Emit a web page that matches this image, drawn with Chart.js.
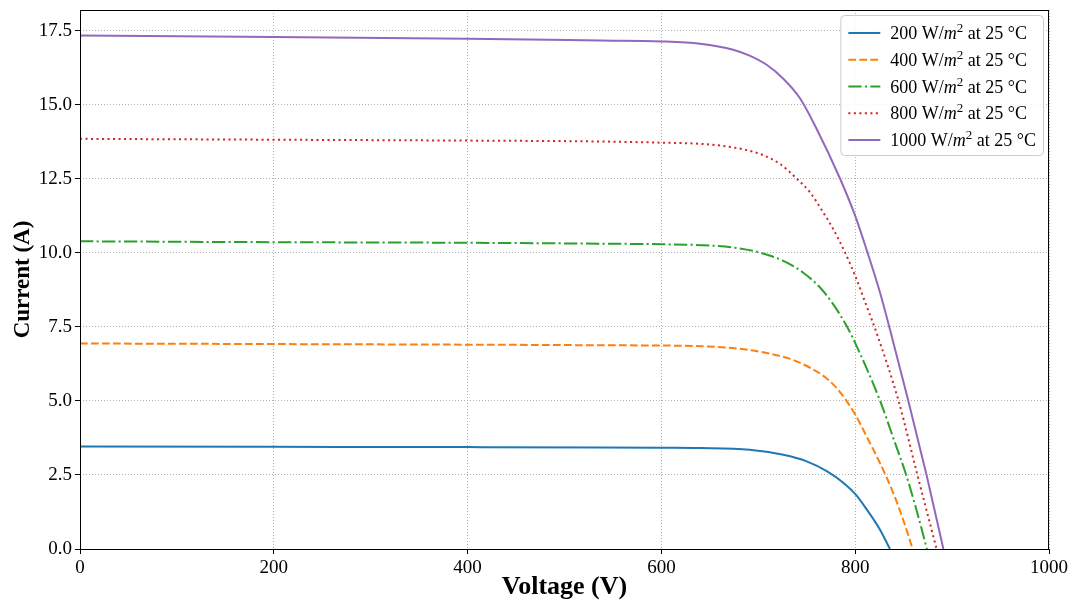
<!DOCTYPE html>
<html>
<head>
<meta charset="utf-8">
<script src="https://cdn.jsdelivr.net/npm/chart.js@4.4.1/dist/chart.umd.min.js"></script>
<style>
    html, body { margin: 0; padding: 0; background: #ffffff; }
    #wrap { width: 1071px; height: 604px; }
</style>
</head>
<body>
<div id="wrap"><canvas id="mycanvas"></canvas></div>
<script>
// irradiance levels (W/m^2) and cell temperature
var irradiance = [200, 400, 600, 800, 1000];
var cellTemp = 25;

// I-V curves: voltage (V) and current (A)
var volt200 = [0, 200, 400, 536.6, 600, 640, 691, 725.8, 749.9, 770.6, 787.7, 800, 811.8, 825.6, 835.9];
var amp200  = [3.46, 3.45, 3.44, 3.43, 3.42, 3.41, 3.35, 3.18, 2.96, 2.63, 2.24, 1.86, 1.34, 0.65, 0];

var volt400 = [0, 200, 400, 536.6, 600, 640, 681, 708.6, 732.7, 753.4, 770.6, 784.3, 800, 811.8, 825.6, 839.3, 849.6, 859.3];
var amp400  = [6.94, 6.92, 6.90, 6.88, 6.87, 6.85, 6.76, 6.62, 6.42, 6.12, 5.76, 5.30, 4.54, 3.80, 2.90, 1.89, 0.98, 0];

var volt600 = [0, 200, 400, 536.6, 600, 640, 674, 701.7, 725.8, 746.4, 763.7, 777.4, 791.2, 801.5, 825.6, 839.3, 853.1, 863.4, 874];
var amp600  = [10.39, 10.36, 10.34, 10.31, 10.29, 10.26, 10.18, 10.01, 9.73, 9.33, 8.83, 8.26, 7.53, 6.85, 5.01, 3.75, 2.45, 1.30, 0];

var volt800 = [0, 200, 400, 536.6, 600, 640, 674, 701.7, 722.4, 739.6, 753.4, 767.1, 777.4, 789.5, 800, 811.8, 821.5, 845, 864, 884];
var amp800  = [13.85, 13.82, 13.79, 13.76, 13.72, 13.68, 13.56, 13.34, 13.0, 12.51, 12.04, 11.36, 10.80, 10.01, 9.22, 8.20, 7.35, 4.97, 2.52, 0];

var volt1000 = [0, 200, 400, 536.6, 600, 640, 674, 691, 708.6, 725.8, 743, 760, 784.3, 800, 811.8, 825.6, 835.9, 854.8, 873.7, 891];
var amp1000  = [17.34, 17.29, 17.23, 17.17, 17.14, 17.06, 16.86, 16.66, 16.35, 15.88, 15.22, 14.2, 12.51, 11.25, 10.1, 8.66, 7.41, 5.01, 2.49, 0];

var xTicks = [0, 200, 400, 600, 800, 1000];
var yTicks = [0, 2.5, 5, 7.5, 10, 12.5, 15, 17.5];

var FONT = '"Liberation Serif", "Times New Roman", serif';

function toPoints(vs, is) {
    var pts = [];
    for (var i in vs) {
        pts.push({ x: vs[i], y: is[i] });
    }
    return pts;
}

function curve(vs, is, color, dash, g) {
    return {
        label: g + ' W/m² at ' + cellTemp + ' °C',
        data: toPoints(vs, is),
        borderColor: color,
        backgroundColor: color,
        borderWidth: 2,
        borderDash: dash,
        pointRadius: 0,
        fill: false,
        cubicInterpolationMode: 'monotone'
    };
}

var chartdata = {
    datasets: [
        curve(volt200, amp200, '#1f77b4', [], irradiance[0]),
        curve(volt400, amp400, '#ff7f0e', [7.7, 3.3], irradiance[1]),
        curve(volt600, amp600, '#2ca02c', [13.3, 3.3, 2.1, 3.3], irradiance[2]),
        curve(volt800, amp800, '#d62728', [2.1, 3.4], irradiance[3]),
        curve(volt1000, amp1000, '#9467bd', [], irradiance[4])
    ]
};

// black frame around the plot area
var framePlugin = {
    id: 'frame',
    afterDatasetsDraw: function(chart) {
        var ctx = chart.ctx, a = chart.chartArea;
        ctx.save();
        ctx.strokeStyle = '#000000';
        ctx.lineWidth = 1;
        ctx.setLineDash([]);
        ctx.strokeRect(a.left + 0.5, a.top + 0.5, a.right - a.left - 1, a.bottom - a.top);
        ctx.restore();
    }
};

// legend box inside the upper right corner, matplotlib style
var boxLegend = {
    id: 'boxLegend',
    afterDraw: function(chart) {
        var ctx = chart.ctx, a = chart.chartArea;
        var fs = 18;
        var base = fs + 'px ' + FONT;
        var ital = 'italic ' + base;
        var small = Math.round(fs * 0.7) + 'px ' + FONT;
        var rows = chart.data.datasets.map(function(ds, k) {
            return [
                { t: irradiance[k] + ' W/', f: base, dy: 0 },
                { t: 'm', f: ital, dy: 0 },
                { t: '2', f: small, dy: -7 },
                { t: ' at ' + cellTemp + ' °C', f: base, dy: 0 }
            ];
        });
        var maxW = 0;
        rows.forEach(function(parts) {
            var w = 0;
            parts.forEach(function(p) { ctx.font = p.f; p.w = ctx.measureText(p.t).width; w += p.w; });
            maxW = Math.max(maxW, w);
        });
        var rowH = 26.75;
        var right = a.right - 6, top = a.top + 5;
        var width = 8 + 32 + 10 + maxW + 7;
        var left = right - width;
        var height = 18 + rowH * (rows.length - 1) + 15;

        ctx.save();
        ctx.beginPath();
        ctx.roundRect(left + 0.5, top + 0.5, width, height, 4);
        ctx.fillStyle = 'rgba(255,255,255,0.85)';
        ctx.fill();
        ctx.strokeStyle = '#cccccc';
        ctx.lineWidth = 1;
        ctx.stroke();

        chart.data.datasets.forEach(function(ds, k) {
            var cy = top + 18 + k * rowH;
            ctx.beginPath();
            ctx.setLineDash(ds.borderDash || []);
            ctx.strokeStyle = ds.borderColor;
            ctx.lineWidth = ds.borderWidth;
            ctx.moveTo(left + 8, cy);
            ctx.lineTo(left + 40, cy);
            ctx.stroke();
            ctx.setLineDash([]);

            var x = left + 50;
            ctx.fillStyle = '#000000';
            ctx.textBaseline = 'alphabetic';
            rows[k].forEach(function(p) {
                ctx.font = p.f;
                ctx.fillText(p.t, x, cy + 6 + p.dy);
                x += p.w;
            });
        });
        ctx.restore();
    }
};

var ctx = document.getElementById('mycanvas');

var LineGraph = new Chart(ctx, {
    type: 'line',
    data: chartdata,
    plugins: [framePlugin, boxLegend],
    options: {
        responsive: true,
        maintainAspectRatio: false,
        animation: false,
        devicePixelRatio: 1,
        layout: { padding: { left: 0, right: 22, top: 10, bottom: 0 } },
        plugins: {
            legend: { display: false },
            tooltip: { enabled: false }
        },
        scales: {
            x: {
                type: 'linear',
                position: 'bottom',
                min: 0,
                max: 1000,
                afterBuildTicks: function(s) { s.ticks = xTicks.map(function(v) { return { value: v }; }); },
                afterFit: function(s) { s.height = 55; s.paddingLeft = 0; s.paddingRight = 0; },
                ticks: {
                    color: '#000000',
                    font: { family: FONT, size: 19 },
                    padding: 3,
                    maxRotation: 0,
                    autoSkip: false,
                    callback: function(v) { return String(v); }
                },
                grid: {
                    color: '#b0b0b0',
                    lineWidth: 1,
                    drawTicks: true,
                    tickLength: 5,
                    tickColor: '#000000',
                    tickWidth: 1,
                    tickBorderDash: []
                },
                border: { display: false, dash: [1, 2] },
                title: {
                    display: true,
                    text: 'Voltage (V)',
                    color: '#000000',
                    font: { family: FONT, size: 26, weight: 'bold' },
                    padding: { top: 0, bottom: 1 }
                }
            },
            y: {
                type: 'linear',
                position: 'left',
                min: 0,
                max: 18.2,
                afterBuildTicks: function(s) { s.ticks = yTicks.map(function(v) { return { value: v }; }); },
                afterFit: function(s) { s.width = 80; s.paddingTop = 0; s.paddingBottom = 0; },
                ticks: {
                    color: '#000000',
                    font: { family: FONT, size: 19 },
                    padding: 3,
                    autoSkip: false,
                    callback: function(v) { return Number(v).toFixed(1); }
                },
                grid: {
                    color: '#b0b0b0',
                    lineWidth: 1,
                    drawTicks: true,
                    tickLength: 5,
                    tickColor: '#000000',
                    tickWidth: 1,
                    tickBorderDash: []
                },
                border: { display: false, dash: [1, 2] },
                title: {
                    display: true,
                    text: 'Current (A)',
                    color: '#000000',
                    font: { family: FONT, size: 23, weight: 'bold' },
                    padding: { top: 9, bottom: 0 }
                }
            }
        }
    }
});
</script>
</body>
</html>
